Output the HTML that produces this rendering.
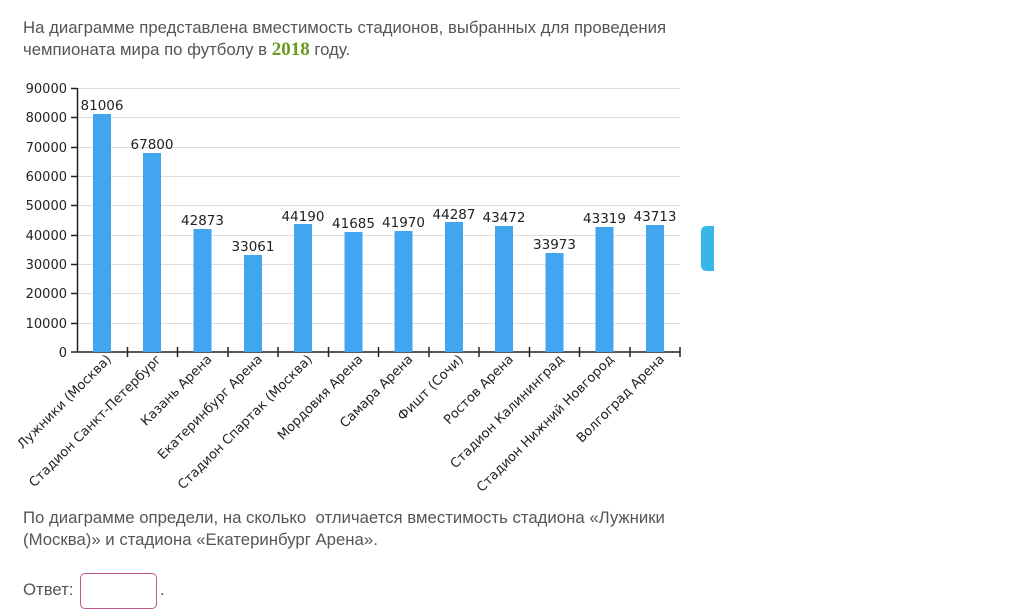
<!DOCTYPE html>
<html><head><meta charset="utf-8"><style>
body{margin:0;background:#fff;width:1018px;height:599px;overflow:hidden;font-family:"Liberation Sans","DejaVu Sans",sans-serif;color:#555}
.t{position:absolute;left:23px;font-size:16.75px;line-height:22px;color:#555}
</style></head><body>
<div class="t" style="top:17px">На диаграмме представлена вместимость стадионов, выбранных для проведения<br>чемпионата мира по футболу в <span style="font-family:'Liberation Serif',serif;color:#6a9a1f;font-size:19px;font-weight:bold">2018</span> году.</div>
<svg width="1018" height="599" style="position:absolute;left:0;top:0" font-family="DejaVu Sans, sans-serif" font-size="13" fill="#222">
<g stroke="#ddd" stroke-width="1">
<line x1="77" x2="680" y1="88.5" y2="88.5"/><line x1="77" x2="680" y1="117.5" y2="117.5"/><line x1="77" x2="680" y1="147.5" y2="147.5"/><line x1="77" x2="680" y1="176.5" y2="176.5"/><line x1="77" x2="680" y1="205.5" y2="205.5"/><line x1="77" x2="680" y1="235.5" y2="235.5"/><line x1="77" x2="680" y1="264.5" y2="264.5"/><line x1="77" x2="680" y1="293.5" y2="293.5"/><line x1="77" x2="680" y1="323.5" y2="323.5"/>
</g>
<g stroke="#222" stroke-width="1.5">
<line x1="77.5" x2="77.5" y1="88" y2="352"/><line x1="77" x2="680" y1="352" y2="352"/>
<line x1="71" x2="77" y1="88.5" y2="88.5"/><line x1="71" x2="77" y1="117.5" y2="117.5"/><line x1="71" x2="77" y1="147.5" y2="147.5"/><line x1="71" x2="77" y1="176.5" y2="176.5"/><line x1="71" x2="77" y1="205.5" y2="205.5"/><line x1="71" x2="77" y1="235.5" y2="235.5"/><line x1="71" x2="77" y1="264.5" y2="264.5"/><line x1="71" x2="77" y1="293.5" y2="293.5"/><line x1="71" x2="77" y1="323.5" y2="323.5"/><line x1="71" x2="77" y1="352" y2="352"/>
<line x1="127.5" x2="127.5" y1="347" y2="357"/><line x1="177.5" x2="177.5" y1="347" y2="357"/><line x1="228" x2="228" y1="347" y2="357"/><line x1="278" x2="278" y1="347" y2="357"/><line x1="328.5" x2="328.5" y1="347" y2="357"/><line x1="378.5" x2="378.5" y1="347" y2="357"/><line x1="429" x2="429" y1="347" y2="357"/><line x1="479" x2="479" y1="347" y2="357"/><line x1="529.5" x2="529.5" y1="347" y2="357"/><line x1="579.5" x2="579.5" y1="347" y2="357"/><line x1="630" x2="630" y1="347" y2="357"/><line x1="680" x2="680" y1="347" y2="357"/>
</g>
<g text-anchor="end">
<text x="67" y="93">90000</text><text x="67" y="122">80000</text><text x="67" y="152">70000</text><text x="67" y="181">60000</text><text x="67" y="210">50000</text><text x="67" y="240">40000</text><text x="67" y="269">30000</text><text x="67" y="298">20000</text><text x="67" y="328">10000</text><text x="67" y="357">0</text>
</g>
<g fill="#42a5f0">
<rect x="93" y="114" width="18" height="238"/>
<rect x="143" y="153" width="18" height="199"/>
<rect x="193.5" y="229" width="18" height="123"/>
<rect x="244" y="255" width="18" height="97"/>
<rect x="294" y="224" width="18" height="128"/>
<rect x="344.5" y="232" width="18" height="120"/>
<rect x="394.5" y="231" width="18" height="121"/>
<rect x="445" y="222" width="18" height="130"/>
<rect x="495" y="226" width="18" height="126"/>
<rect x="545.5" y="253" width="18" height="99"/>
<rect x="595.5" y="227" width="18" height="125"/>
<rect x="646" y="225" width="18" height="127"/>
</g>
<g text-anchor="middle" font-size="13.5">
<text x="102" y="110">81006</text><text x="152" y="149">67800</text><text x="202.5" y="225">42873</text><text x="253" y="251">33061</text><text x="303" y="221">44190</text><text x="353.5" y="228">41685</text><text x="403.5" y="227">41970</text><text x="454" y="219">44287</text><text x="504" y="222">43472</text><text x="554.5" y="249">33973</text><text x="604.5" y="223">43319</text><text x="655" y="221">43713</text>
</g>
<g text-anchor="end" font-size="13">
<text transform="translate(112,360) rotate(-45)">Лужники (Москва)</text>
<text transform="translate(162,360) rotate(-45)">Стадион Санкт-Петербург</text>
<text transform="translate(212.5,360) rotate(-45)">Казань Арена</text>
<text transform="translate(263,360) rotate(-45)">Екатеринбург Арена</text>
<text transform="translate(313,360) rotate(-45)">Стадион Спартак (Москва)</text>
<text transform="translate(363.5,360) rotate(-45)">Мордовия Арена</text>
<text transform="translate(413.5,360) rotate(-45)">Самара Арена</text>
<text transform="translate(464,360) rotate(-45)">Фишт (Сочи)</text>
<text transform="translate(514,360) rotate(-45)">Ростов Арена</text>
<text transform="translate(564.5,360) rotate(-45)">Стадион Калининград</text>
<text transform="translate(614.5,360) rotate(-45)">Стадион Нижний Новгород</text>
<text transform="translate(665,360) rotate(-45)">Волгоград Арена</text>
</g>
<path d="M714 226 H707 Q701 226 701 232 V265 Q701 271 707 271 H714 Z" fill="#35b8e8"/>
</svg>
<div class="t" style="top:507px">По диаграмме определи, на сколько&nbsp; отличается вместимость стадиона «Лужники<br>(Москва)» и стадиона «Екатеринбург Арена».</div>
<div class="t" style="top:579px">Ответ:</div>
<div style="position:absolute;left:80px;top:573px;width:75px;height:34px;border:1px solid #c0558f;border-radius:5px"></div>
<div class="t" style="top:579px;left:160px">.</div>
</body></html>
